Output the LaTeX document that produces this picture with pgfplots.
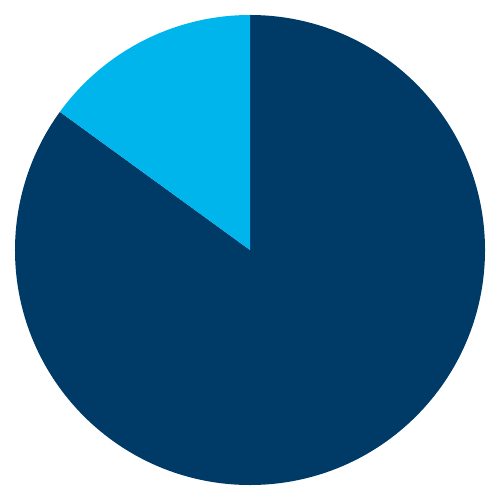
\documentclass[border=0pt]{standalone}
\usepackage{pgfplots}
\usepackage{pgfplotstable}
\pgfplotsset{compat=1.18}
\definecolor{navy}{HTML}{003A66}
\definecolor{sky}{HTML}{00B5EB}
% share of each slice, in percent
\pgfplotstableread{
label value
main 85
other 15
}\piedata
\begin{document}
\begin{tikzpicture}
\pgfplotstablegetelem{1}{value}\of\piedata
\pgfmathsetmacro\otherang{\pgfplotsretval*3.6}
\begin{axis}[
  scale only axis,
  width=10cm, height=10cm,
  xmin=-250, xmax=250, ymin=-250, ymax=250,
  hide axis, clip=false]
  \path (axis cs:-250,-250) rectangle (axis cs:250,250);
  % big slice, clockwise from the top
  \fill[navy] (axis cs:0,0) -- (axis cs:0,235)
    arc[start angle=90, end angle={90+\otherang-360}, radius=4.7cm] -- cycle;
  % small slice, counterclockwise from the top
  \fill[sky] (axis cs:0,0) -- (axis cs:0,235)
    arc[start angle=90, end angle={90+\otherang}, radius=4.7cm] -- cycle;
\end{axis}
\end{tikzpicture}
\end{document}
